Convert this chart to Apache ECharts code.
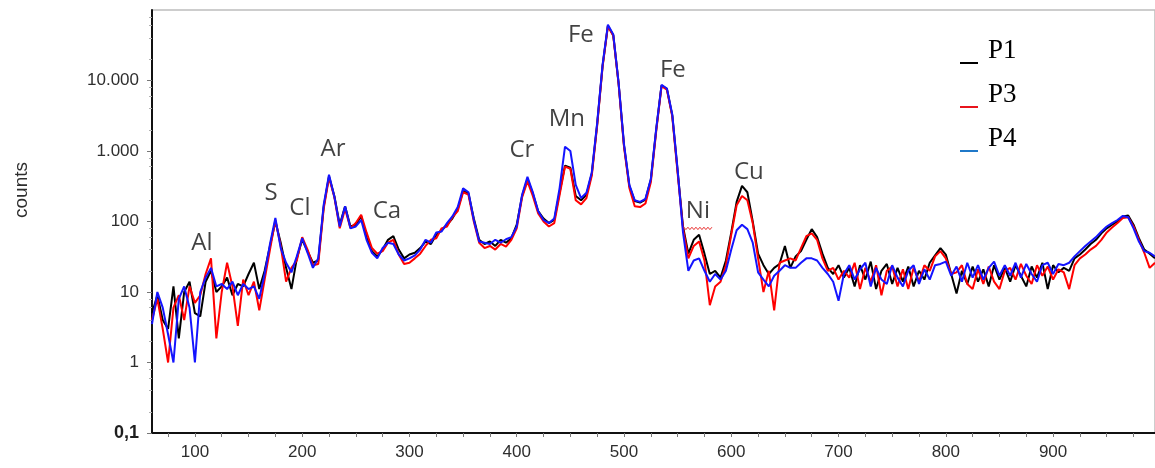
<!DOCTYPE html>
<html>
<head>
<meta charset="utf-8">
<script src="https://cdn.jsdelivr.net/npm/echarts@6/dist/echarts.min.js"></script>
<style>
  html, body { margin: 0; padding: 0; background: #fff; }
  #chart { width: 1155px; height: 468px; }
</style>
</head>
<body>
<div id="chart"></div>
<script>
// Spectrum channels: energy axis from 60 in steps of 5
const energyStart = 60;
const energyStep = 5;

// Counts per channel, sample P1
const countsP1 = [
  5, 9, 4, 3, 12, 2.2, 10, 14, 5, 4.5,
  14, 20, 10, 12, 16, 9, 13, 12, 18, 26,
  11, 20, 45, 100, 50, 22, 11, 30, 55, 38,
  26, 28, 160, 440, 230, 90, 165, 85, 90, 120,
  60, 38, 32, 40, 55, 62, 40, 30, 34, 36,
  42, 52, 48, 65, 75, 90, 110, 150, 270, 250,
  110, 55, 48, 52, 45, 55, 50, 58, 90, 230,
  400, 250, 140, 110, 95, 105, 260, 620, 580, 230,
  200, 240, 480, 2400, 16000, 60000, 44000, 9000, 1200, 320,
  195, 185, 205, 390, 2000, 8500, 7600, 3200, 520, 85,
  35, 55, 65, 35, 18, 20, 16, 28, 70, 190,
  320, 260, 100, 35, 24, 18, 22, 25, 45, 22,
  32, 38, 55, 78, 60, 35, 22, 18, 24, 16,
  22, 12, 24, 15, 27, 11, 20, 25, 13, 22,
  14, 23, 12, 20, 15, 26, 33, 42, 34, 18,
  9.5, 20, 13, 23, 14, 21, 12, 24, 15, 22,
  14, 24, 17, 12, 23, 16, 26, 11, 24, 19,
  22, 20, 30, 34, 40, 48, 55, 68, 80, 90,
  100, 118, 122, 90, 58, 40, 35, 30
];

// Counts per channel, sample P3
const countsP3 = [
  4, 8, 3, 1, 6, 9, 4, 12, 7, 9,
  18, 30, 2.2, 10, 26, 12, 3.3, 15, 9, 14,
  5.5, 15, 40, 105, 45, 14, 22, 28, 60, 40,
  24, 25, 150, 420, 220, 80, 150, 80, 95, 125,
  70, 42, 35, 38, 50, 55, 34, 25, 26, 30,
  35, 45, 55, 58, 80, 85, 115, 140, 260, 240,
  100, 50, 42, 45, 40, 48, 44, 55, 80, 220,
  370, 230, 130, 100, 85, 95, 240, 600, 560, 200,
  175, 215, 450, 2300, 15500, 59000, 43000, 8800, 1150, 300,
  165, 160, 180, 360, 1900, 8300, 7400, 3100, 480, 80,
  30, 45, 52, 28, 6.5, 12, 14, 24, 65, 170,
  230, 200, 95, 30, 10, 20, 5.5, 26, 28, 30,
  28, 42, 62, 68, 55, 30, 20, 22, 15, 20,
  16, 26, 11, 22, 14, 24, 9, 20, 23, 12,
  21, 11, 22, 14, 24, 20, 32, 38, 30, 18,
  19, 24, 13, 11, 21, 13, 23, 14, 11, 20,
  22, 15, 25, 17, 13, 24, 17, 23, 15, 21,
  19, 11, 24, 30, 34, 40, 45, 55, 70, 82,
  95, 112, 115, 85, 55, 36, 22, 26
];

// Counts per channel, sample P4
const countsP4 = [
  3.5, 10, 6, 2.5, 1, 8, 12, 6, 1, 10,
  16, 22, 12, 13, 11, 14, 9, 13, 11, 12,
  8, 18, 48, 112, 42, 26, 19, 32, 58, 36,
  22, 30, 170, 460, 225, 85, 165, 80, 85, 105,
  55, 36, 30, 42, 50, 48, 34, 28, 30, 33,
  40, 55, 50, 70, 72, 95, 118, 160, 295, 260,
  105, 52, 50, 48, 55, 50, 56, 60, 85, 240,
  430, 260, 140, 105, 95, 110, 300, 1150, 1000, 330,
  215, 255, 500, 2500, 16500, 62000, 45000, 9200, 1250, 330,
  200, 190, 210, 400, 2050, 8700, 7700, 3300, 540, 70,
  20, 28, 30, 20, 14, 18, 15, 20, 40, 75,
  90, 78, 50, 19, 15, 12, 17, 20, 24, 22,
  22, 26, 30, 30, 28, 22, 18, 14, 7.5, 18,
  24, 15, 21, 26, 12, 22, 15, 13, 24, 16,
  12, 20, 24, 13, 21, 15, 24, 25, 27, 17,
  23, 14, 26, 16, 24, 15, 22, 27, 17, 24,
  17, 26, 16, 25, 18, 14, 24, 26, 18, 25,
  24, 26, 32, 38, 45, 52, 60, 72, 85, 95,
  105, 120, 115, 80, 52, 38, 36, 32
];

// Axis ticks and labels
const xLabelValues = [100, 200, 300, 400, 500, 600, 700, 800, 900];
const xTickValues = [75, 100, 125, 150, 175, 200, 225, 250, 275, 300, 325, 350, 375, 400,
  425, 450, 475, 500, 525, 550, 575, 600, 625, 650, 675, 700, 725, 750, 775, 800,
  825, 850, 875, 900, 925, 950, 975];
const yLabelValues = [0.1, 1, 10, 100, 1000, 10000];
const yLabelTexts = ['0,1', '1', '10', '100', '1.000', '10.000'];
const yMinorTickValues = [0.2, 0.4, 0.6, 0.8, 2, 4, 6, 8, 20, 40, 60, 80, 200, 400, 600, 800,
  2000, 4000, 6000, 8000, 20000, 40000, 60000, 80000];

// Element lines: [symbol, energy, counts] where each tag sits
const elementTags = [
  ['Al', 106.6, 48.7], ['S', 170.9, 249], ['Cl', 197.9, 153], ['Ar', 228.7, 1050],
  ['Ca', 279, 139], ['Cr', 404.8, 1016], ['Mn', 446.8, 2800], ['Fe', 459.8, 43500],
  ['Fe', 545.6, 13860], ['Ni', 568.9, 139], ['Cu', 616.4, 495]
];

const legendItems = [
  { name: 'P1', color: '#000000' },
  { name: 'P3', color: '#e8141c' },
  { name: 'P4', color: '#1f78c8' }
];

const energy = countsP1.map((_, i) => energyStart + i * energyStep);
const toPairs = (counts) => counts.map((c, i) => [energy[i], c]);

const chart = echarts.init(document.getElementById('chart'), null, { renderer: 'canvas' });

const labelFont = "'Liberation Sans', Arial, sans-serif";

function lineSeries(name, counts, color, z) {
  return {
    name: name,
    type: 'line',
    data: toPairs(counts),
    showSymbol: false,
    symbol: 'none',
    z: z,
    lineStyle: { color: color, width: 2 },
    itemStyle: { color: color },
    emphasis: { disabled: true },
    animation: false
  };
}

const legendGraphics = [];
legendItems.forEach((item, i) => {
  const y = 63 + i * 44;
  legendGraphics.push({
    id: 'legend-line-' + item.name,
    type: 'line',
    shape: { x1: 960, y1: y, x2: 978, y2: y },
    style: { stroke: item.color, lineWidth: 2 }
  });
  legendGraphics.push({
    id: 'legend-text-' + item.name,
    type: 'text',
    x: 988, y: y - 12,
    style: {
      text: item.name, fill: '#000',
      font: "27px 'Liberation Serif', 'Times New Roman', serif",
      verticalAlign: 'middle', align: 'left'
    }
  });
});

chart.setOption({
  animation: false,
  backgroundColor: '#ffffff',
  grid: {
    left: 152, right: 0, top: 10, bottom: 35,
    show: true, borderColor: '#bdbdbd', borderWidth: 1.5, backgroundColor: 'transparent'
  },
  xAxis: [{
    type: 'value',
    min: 60, max: 995,
    axisLine: { show: true, onZero: false, lineStyle: { color: '#111', width: 2 } },
    axisTick: { show: true, customValues: xTickValues, length: 4, lineStyle: { color: '#777', width: 1 } },
    axisLabel: {
      customValues: xLabelValues, margin: 11, color: '#2e2e2e',
      fontFamily: labelFont, fontSize: 17
    },
    splitLine: { show: false }
  }],
  yAxis: [{
    type: 'log', logBase: 10,
    min: 0.1, max: 100000,
    axisLine: { show: true, lineStyle: { color: '#111', width: 2 } },
    axisTick: { show: true, customValues: yLabelValues, length: 5, lineStyle: { color: '#777', width: 1 } },
    axisLabel: {
      customValues: yLabelValues, margin: 13, color: '#2e2e2e',
      fontFamily: labelFont, fontSize: 17,
      formatter: function (v) {
        const e = Math.round(Math.log10(v));
        const idx = yLabelValues.findIndex(t => Math.round(Math.log10(t)) === e);
        if (idx < 0) return '';
        return idx === 0 ? '{b|' + yLabelTexts[idx] + '}' : yLabelTexts[idx];
      },
      rich: { b: { fontWeight: 'bold', fontFamily: labelFont, fontSize: 18, color: '#1e1e1e' } }
    },
    splitLine: { show: false }
  }, {
    type: 'log', logBase: 10,
    min: 0.1, max: 100000,
    position: 'left',
    axisLine: { show: false },
    axisTick: { show: true, customValues: yMinorTickValues, length: 3, lineStyle: { color: '#b0b0b0', width: 1 } },
    axisLabel: { show: false },
    splitLine: { show: false }
  }],
  series: [
    lineSeries('P1', countsP1, '#000000', 2),
    lineSeries('P3', countsP3, '#ff0000', 3),
    lineSeries('P4', countsP4, '#1414ff', 4),
    {
      name: 'elements',
      type: 'scatter',
      data: elementTags.map(t => ({ name: t[0], value: [t[1], t[2]] })),
      symbolSize: 1,
      itemStyle: { color: 'transparent' },
      z: 10,
      silent: true,
      label: {
        show: true, position: 'inside',
        formatter: '{b}',
        color: '#111111',
        fontFamily: "'Open Sans', 'Noto Sans', sans-serif",
        fontSize: 24
      },
      animation: false
    }
  ],
  graphic: [
    {
      id: 'axis-title',
      type: 'text',
      x: 22, y: 190,
      rotation: Math.PI / 2,
      style: {
        text: 'counts', fill: '#2e2e2e',
        font: "19px 'Liberation Sans', Arial, sans-serif",
        align: 'center', verticalAlign: 'middle'
      }
    }
  ].concat(legendGraphics)
});

// Red wavy underline beneath the Ni tag
const niTag = elementTags.find(t => t[0] === 'Ni');
const niPos = chart.convertToPixel({ xAxisIndex: 0, yAxisIndex: 0 }, [niTag[1], niTag[2]]);
const wave = [];
for (let dx = -14; dx <= 15; dx += 2) {
  wave.push([niPos[0] + dx, niPos[1] + 17 + ((dx / 2) % 2 === 0 ? 1.2 : -1.2)]);
}
chart.setOption({
  graphic: [{
    id: 'ni-underline',
    type: 'polyline',
    shape: { points: wave },
    style: { stroke: '#e83030', lineWidth: 1, fill: null },
    z: 20
  }]
});
</script>
</body>
</html>
